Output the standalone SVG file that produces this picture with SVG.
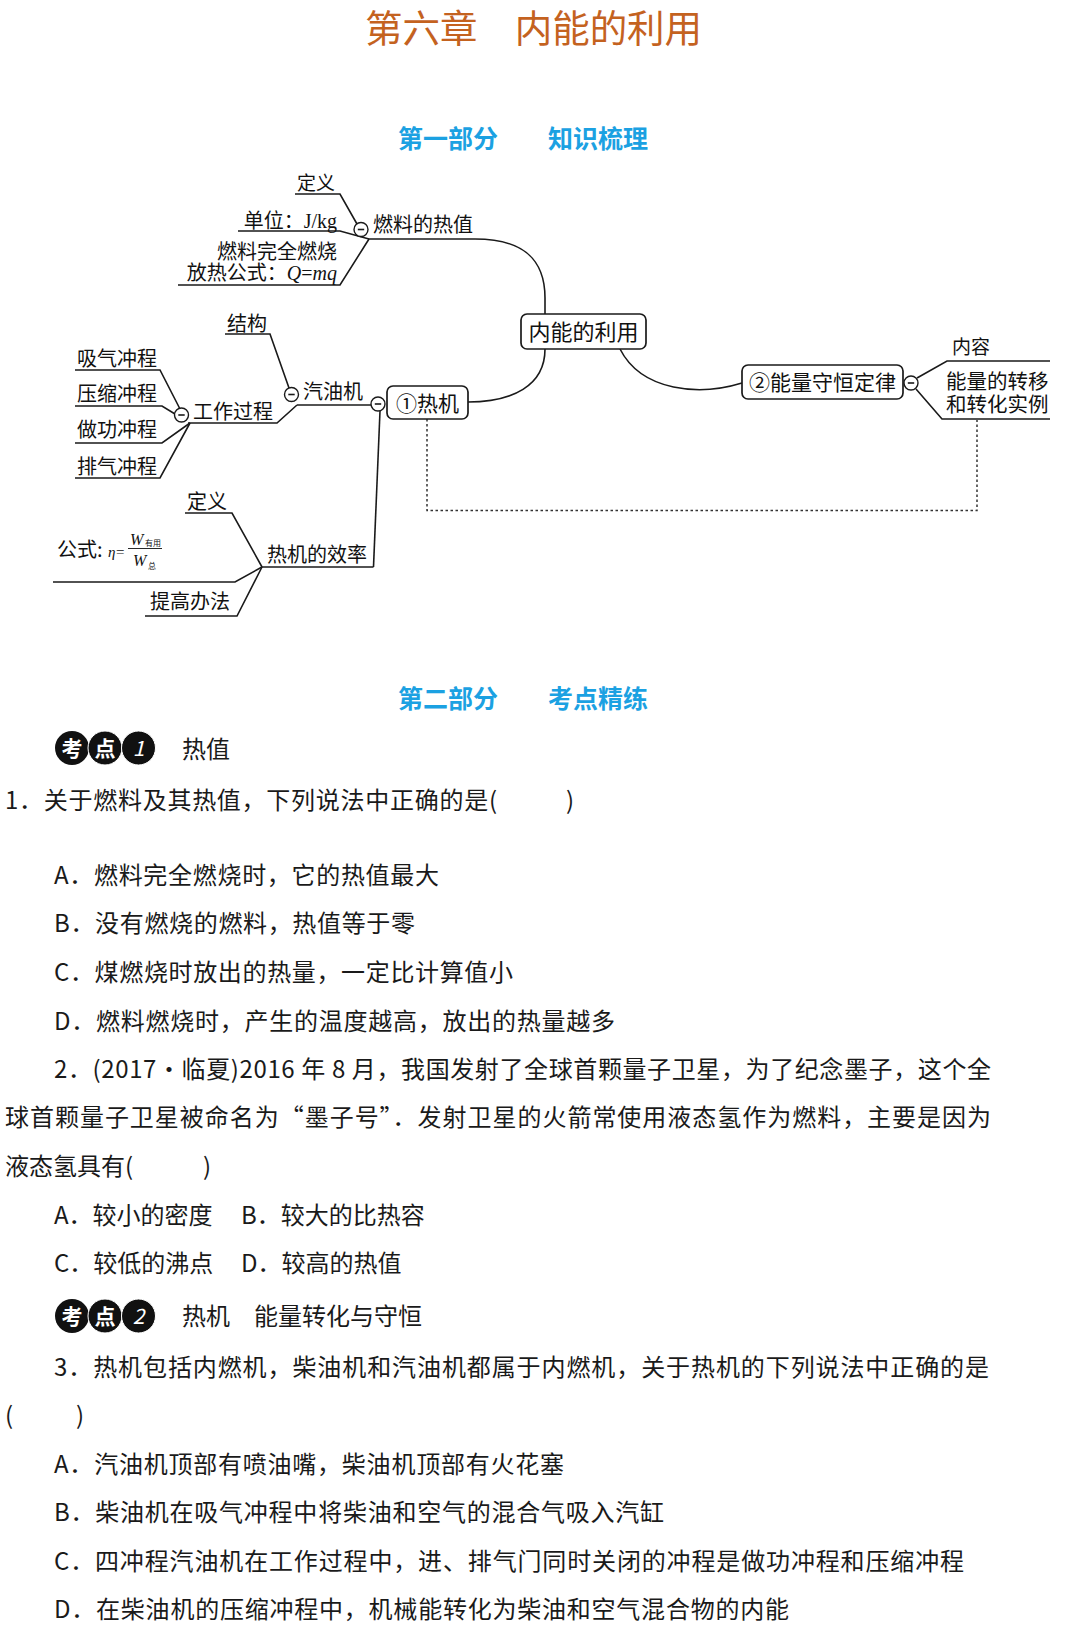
<svg xmlns="http://www.w3.org/2000/svg" width="1080" height="1627" viewBox="0 0 1080 1627">
<style>
.t{font-family:"Noto Sans CJK SC","Noto Sans",sans-serif;fill:#1a1a1a}
.m{font-family:"Noto Sans CJK SC","Noto Sans",sans-serif;fill:#111;font-size:20px}
.q{font-size:24px}
.ser{font-family:"Liberation Serif","Noto Sans CJK SC",serif}
.ln{fill:none;stroke:#1a1a1a;stroke-width:1.6}
.box{fill:#fff;stroke:#1a1a1a;stroke-width:1.7}
.cir{fill:#fff;stroke:#1a1a1a;stroke-width:1.4}
.dot{fill:none;stroke:#333;stroke-width:1.5;stroke-dasharray:2.5 2.5}
.h{font-family:"Noto Sans CJK SC","Noto Sans",sans-serif;font-weight:bold;font-size:25px;fill:#1BA1E2}
.bw{font-family:"Noto Sans CJK SC","Noto Sans",sans-serif;fill:#fff;font-size:21px;font-weight:bold}
</style>
<defs>
<g id="minus"><circle class="cir" r="7"/><line x1="-3.2" y1="0" x2="3.2" y2="0" stroke="#1a1a1a" stroke-width="1.6"/></g>
</defs>
<rect width="1080" height="1627" fill="#fff"/>

<g id="title"><text x="365" y="42" class="t" textLength="337" style="font-size:37.5px;fill:#C4621F">第六章　内能的利用</text></g>
<g id="heading1"><text x="398" y="148" class="h">第一部分　　知识梳理</text></g>

<g id="connectors">
<path class="ln" d="M295,194 L340,194 L357,224"/>
<path class="ln" d="M238,231 L340,231 L369,239"/>
<path class="ln" d="M178,285 L340,285 L369,239"/>
<path class="ln" d="M369,239 L475,239 C522,239 545,258 545,298 L545,314"/>
<path class="ln" d="M545,349 C545,386 512,402 468,402"/>
<path class="ln" d="M620,349 C642,392 700,396 742,383"/>
<path class="ln" d="M225,334 L270,334 L289,388"/>
<path class="ln" d="M297,405 L371,405"/>
<path class="ln" d="M188,423 L277,423 L297,405"/>
<path class="ln" d="M75,370 L160,370 L180,409"/>
<path class="ln" d="M75,406 L162,406 L175,414"/>
<path class="ln" d="M75,443 L162,443 L190,423"/>
<path class="ln" d="M75,478 L160,478 L190,423"/>
<path class="ln" d="M380,411 L373.5,567"/>
<path class="ln" d="M262,567 L373.5,567"/>
<path class="ln" d="M185,513 L232,513 L262,567"/>
<path class="ln" d="M53,582 L235,582 L262,567"/>
<path class="ln" d="M145,616 L237,616 L262,567"/>
<path class="ln" d="M917,378 L947,361 L1050,361"/>
<path class="ln" d="M916,389 L942,419 L1050,419"/>
<path class="dot" d="M427,419 L427,510.5 L977,510.5 L977,420"/>
</g>

<g id="n-dingyi1"><text x="297" y="190" class="m" style="font-size:19px">定义</text></g>
<g id="n-danwei"><text x="337" y="228" class="m" text-anchor="end">单位：<tspan class="ser">J/kg</tspan></text></g>
<g id="n-gongshi1">
<text class="m" text-anchor="end"><tspan x="337" y="259">燃料完全燃烧</tspan><tspan x="337" y="280">放热公式：<tspan class="ser" font-style="italic">Q</tspan><tspan class="ser">=</tspan><tspan class="ser" font-style="italic">mq</tspan></tspan></text>
</g>
<g id="n-rezhi"><use href="#minus" x="361" y="229.5"/><text x="373" y="232" class="m">燃料的热值</text></g>

<g id="n-root"><rect class="box" x="521" y="314" width="125" height="35" rx="6"/><text x="583.5" y="340" class="m" text-anchor="middle" style="font-size:22px">内能的利用</text></g>

<g id="n-jiegou"><text x="227" y="331" class="m">结构</text></g>
<g id="n-xiqi"><text x="77" y="366" class="m">吸气冲程</text></g>
<g id="n-yasuo"><text x="77" y="401" class="m">压缩冲程</text></g>
<g id="n-zuogong"><text x="77" y="437" class="m">做功冲程</text></g>
<g id="n-paiqi"><text x="77" y="474" class="m">排气冲程</text></g>
<g id="n-guocheng"><use href="#minus" x="181.5" y="415"/><text x="193" y="419" class="m">工作过程</text></g>
<g id="n-qiyouji"><use href="#minus" x="291.5" y="394.5"/><text x="303" y="399" class="m">汽油机</text></g>
<g id="n-reji"><use href="#minus" x="378" y="404"/><rect class="box" x="387" y="386" width="81" height="33" rx="6"/><text x="427.5" y="411" class="m" text-anchor="middle" style="font-size:21px">①热机</text></g>

<g id="n-dingyi2"><text x="187" y="509" class="m">定义</text></g>
<g id="n-gongshi2">
<text x="57" y="557" class="m">公式:</text>
<text x="108" y="557" class="ser" font-size="15" font-style="italic" fill="#111">η</text>
<text x="116" y="557" class="ser" font-size="15" fill="#111">=</text>
<text x="130" y="545" class="ser" font-size="16" font-style="italic" fill="#111">W</text>
<text x="145" y="546" class="m" style="font-size:8px">有用</text>
<line x1="128" y1="548.5" x2="162" y2="548.5" stroke="#111" stroke-width="0.9"/>
<text x="133" y="566" class="ser" font-size="16" font-style="italic" fill="#111">W</text>
<text x="148" y="569" class="m" style="font-size:8px">总</text>
</g>
<g id="n-xiaolv"><text x="267" y="562" class="m">热机的效率</text></g>
<g id="n-tigao"><text x="150" y="609" class="m">提高办法</text></g>

<g id="n-shouheng"><rect class="box" x="742" y="365" width="161" height="34" rx="6"/><text x="822.5" y="390" class="m" text-anchor="middle" style="font-size:21px">②能量守恒定律</text><use href="#minus" x="911" y="383"/></g>
<g id="n-neirong"><text x="952" y="354" class="m" style="font-size:19px">内容</text></g>
<g id="n-shili"><text class="m" style="font-size:20.5px"><tspan x="946" y="389">能量的转移</tspan><tspan x="946" y="412">和转化实例</tspan></text></g>

<g id="heading2"><text x="398" y="708" class="h">第二部分　　考点精练</text></g>

<g id="badge1">
<circle cx="72" cy="748" r="17" fill="#111"/><circle cx="105" cy="748" r="17" fill="#111" stroke="#fff" stroke-width="1"/><circle cx="138.5" cy="748" r="17" fill="#111" stroke="#fff" stroke-width="1"/>
<text x="72" y="756" class="bw" text-anchor="middle">考</text><text x="105" y="756" class="bw" text-anchor="middle">点</text><text x="138.5" y="756" class="bw" text-anchor="middle" font-style="italic" style="font-weight:normal">1</text>
<text x="182" y="758" class="t q">热值</text>
</g>

<g id="q1">
<text x="5" y="809" class="t q" textLength="492">1．关于燃料及其热值，下列说法中正确的是(</text>
<text x="566" y="809" class="t q">)</text>
<text x="54" y="884" class="t q" textLength="385">A．燃料完全燃烧时，它的热值最大</text>
<text x="54" y="932" class="t q" textLength="361">B．没有燃烧的燃料，热值等于零</text>
<text x="54" y="981" class="t q" textLength="459">C．煤燃烧时放出的热量，一定比计算值小</text>
<text x="54" y="1030" class="t q" textLength="561">D．燃料燃烧时，产生的温度越高，放出的热量越多</text>
</g>

<g id="q2">
<text x="54" y="1078" class="t q" textLength="937">2．(2017·临夏)2016 年 8 月，我国发射了全球首颗量子卫星，为了纪念墨子，这个全</text>
<text x="5" y="1126" class="t q" textLength="986">球首颗量子卫星被命名为“墨子号”．发射卫星的火箭常使用液态氢作为燃料，主要是因为</text>
<text x="5" y="1175" class="t q">液态氢具有(</text>
<text x="203" y="1175" class="t q">)</text>
<text x="54" y="1224" class="t q">A．较小的密度</text>
<text x="241" y="1224" class="t q">B．较大的比热容</text>
<text x="54" y="1272" class="t q">C．较低的沸点</text>
<text x="241" y="1272" class="t q">D．较高的热值</text>
</g>

<g id="badge2">
<circle cx="72" cy="1316" r="17" fill="#111"/><circle cx="105" cy="1316" r="17" fill="#111" stroke="#fff" stroke-width="1"/><circle cx="138.5" cy="1316" r="17" fill="#111" stroke="#fff" stroke-width="1"/>
<text x="72" y="1324" class="bw" text-anchor="middle">考</text><text x="105" y="1324" class="bw" text-anchor="middle">点</text><text x="138.5" y="1324" class="bw" text-anchor="middle" font-style="italic" style="font-weight:normal">2</text>
<text x="182" y="1325" class="t q">热机　能量转化与守恒</text>
</g>

<g id="q3">
<text x="54" y="1376" class="t q" textLength="935">3．热机包括内燃机，柴油机和汽油机都属于内燃机，关于热机的下列说法中正确的是</text>
<text x="5" y="1424" class="t q">(</text>
<text x="76" y="1424" class="t q">)</text>
<text x="54" y="1473" class="t q" textLength="510">A．汽油机顶部有喷油嘴，柴油机顶部有火花塞</text>
<text x="54" y="1521" class="t q" textLength="610">B．柴油机在吸气冲程中将柴油和空气的混合气吸入汽缸</text>
<text x="54" y="1570" class="t q" textLength="910">C．四冲程汽油机在工作过程中，进、排气门同时关闭的冲程是做功冲程和压缩冲程</text>
<text x="54" y="1618" class="t q" textLength="735">D．在柴油机的压缩冲程中，机械能转化为柴油和空气混合物的内能</text>
</g>
</svg>
